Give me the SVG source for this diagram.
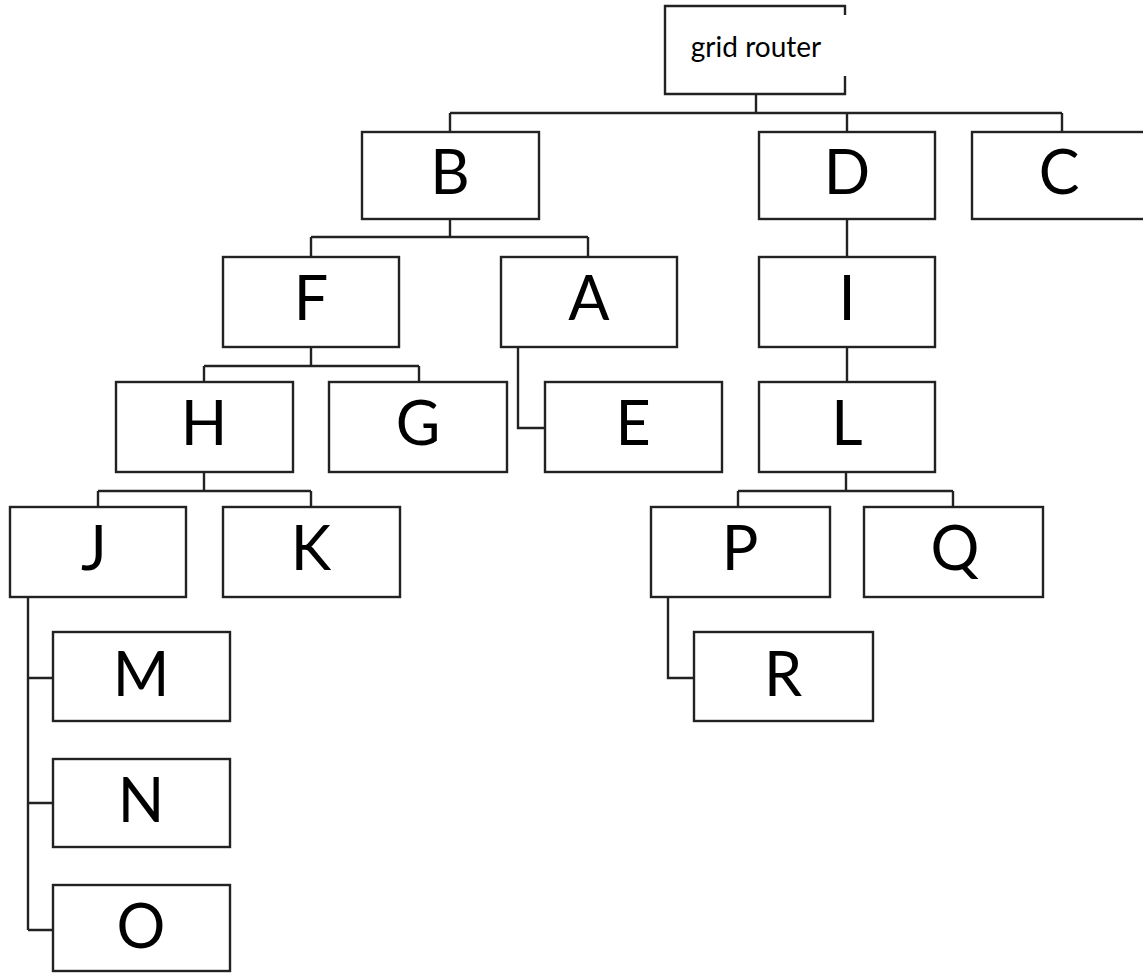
<svg xmlns="http://www.w3.org/2000/svg" width="1143" height="973" viewBox="0 0 1143 973">
  <style>
    .box { fill: #ffffff; stroke: #222222; stroke-width: 2.4; }
    .edge { fill: none; stroke: #222222; stroke-width: 2.4; }
    .lbl { font-family: Lato, "Open Sans", sans-serif; font-size: 61px; fill: #000000; text-anchor: middle; }
    .root-lbl { font-family: Lato, "Open Sans", sans-serif; font-size: 28px; fill: #000000; text-anchor: middle; }
  </style>
  <rect x="0" y="0" width="1143" height="973" fill="#ffffff"/>

  <!-- tree connectors -->
  <g id="connectors" class="edge">
    <path d="M756,94 V113 M450,113 H1062 M450,113 V132 M847,113 V132 M1062,113 V132"/>
    <path d="M450,219 V237 M311,237 H588 M311,237 V257 M588,237 V257"/>
    <path d="M847,219 V257 M847,347 V382"/>
    <path d="M311,347 V366 M204,366 H419 M204,366 V382 M419,366 V382"/>
    <path d="M518,347 V428 H545"/>
    <path d="M204,472 V491 M98,491 H311 M98,491 V507 M311,491 V507"/>
    <path d="M846,472 V491 M738,491 H953 M738,491 V507 M953,491 V507"/>
    <path d="M28,597 V930 M28,678 H53 M28,803 H53 M28,930 H53"/>
    <path d="M668,597 V678 H694"/>
  </g>

  <!-- root node: right edge is broken in the middle -->
  <g id="node-grid-router">
    <rect x="665" y="6" width="180" height="88" fill="#ffffff"/>
    <path class="edge" d="M845,15 V6 H665 V94 H845 V76"/>
    <text class="root-lbl" x="756" y="57">grid router</text>
  </g>

  <g id="node-B"><rect class="box" x="362" y="132" width="177" height="87"/><text class="lbl" x="450" y="194">B</text></g>
  <g id="node-D"><rect class="box" x="759" y="132" width="176" height="87"/><text class="lbl" x="847" y="194">D</text></g>
  <g id="node-C"><rect class="box" x="972" y="132" width="180" height="87"/><text class="lbl" x="1059" y="194">C</text></g>

  <g id="node-F"><rect class="box" x="223" y="257" width="176" height="90"/><text class="lbl" x="311" y="320">F</text></g>
  <g id="node-A"><rect class="box" x="501" y="257" width="176" height="90"/><text class="lbl" x="589" y="320">A</text></g>
  <g id="node-I"><rect class="box" x="759" y="257" width="176" height="90"/><text class="lbl" x="847" y="320">I</text></g>

  <g id="node-H"><rect class="box" x="116" y="382" width="177" height="90"/><text class="lbl" x="204" y="445">H</text></g>
  <g id="node-G"><rect class="box" x="329" y="382" width="178" height="90"/><text class="lbl" x="418" y="445">G</text></g>
  <g id="node-E"><rect class="box" x="545" y="382" width="177" height="90"/><text class="lbl" x="633" y="445">E</text></g>
  <g id="node-L"><rect class="box" x="759" y="382" width="176" height="90"/><text class="lbl" x="847" y="445">L</text></g>

  <g id="node-J"><rect class="box" x="10" y="507" width="176" height="90"/><text class="lbl" x="94" y="570">J</text></g>
  <g id="node-K"><rect class="box" x="223" y="507" width="177" height="90"/><text class="lbl" x="311" y="570">K</text></g>
  <g id="node-P"><rect class="box" x="651" y="507" width="179" height="90"/><text class="lbl" x="740" y="570">P</text></g>
  <g id="node-Q"><rect class="box" x="864" y="507" width="179" height="90"/><text class="lbl" x="955" y="570">Q</text></g>

  <g id="node-M"><rect class="box" x="53" y="632" width="177" height="89"/><text class="lbl" x="141" y="696">M</text></g>
  <g id="node-R"><rect class="box" x="694" y="632" width="179" height="89"/><text class="lbl" x="783" y="696">R</text></g>
  <g id="node-N"><rect class="box" x="53" y="759" width="177" height="88"/><text class="lbl" x="141" y="822">N</text></g>
  <g id="node-O"><rect class="box" x="53" y="885" width="177" height="86"/><text class="lbl" x="141" y="948">O</text></g>
</svg>
